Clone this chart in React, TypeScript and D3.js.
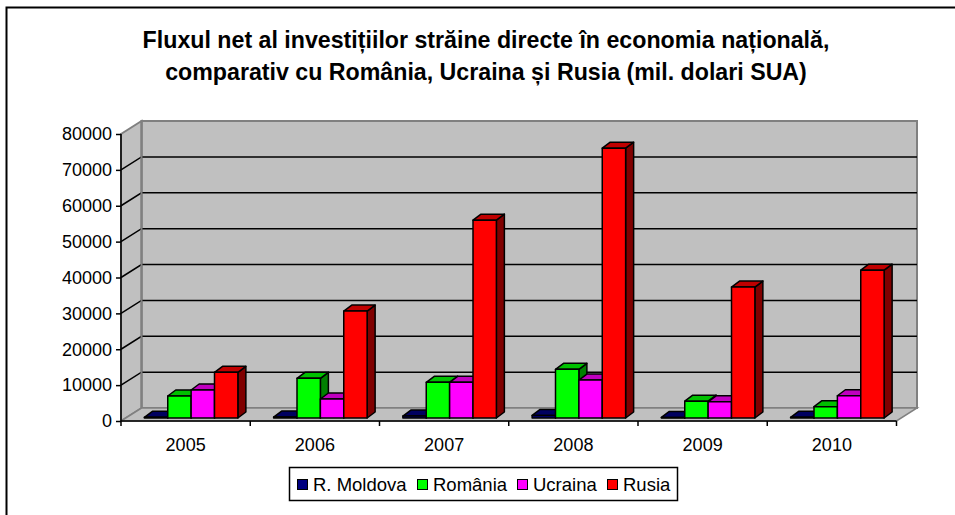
import React, { useEffect, useRef } from "react";
import * as d3 from "d3";

const years = ["2005", "2006", "2007", "2008", "2009", "2010"];
const seriesNames = ["R. Moldova", "România", "Ucraina", "Rusia"];
const moldova = [190, 260, 540, 710, 150, 200];
const romania = [6130, 11060, 9940, 13560, 4700, 3150];
const ucraina = [7800, 5300, 9940, 10580, 4500, 6200];
const rusia = [12730, 29800, 55150, 75200, 36500, 41200];
const yTicks = [0, 10000, 20000, 30000, 40000, 50000, 60000, 70000, 80000];
const colors = ["#000080", "#00ff00", "#ff00ff", "#ff0000"];
const tops = ["#000060", "#00c000", "#c000c0", "#c00000"];
const sides = ["#000040", "#008000", "#800080", "#800000"];
const titleLines = [
  "Fluxul net al investițiilor străine directe în economia națională,",
  "comparativ cu România, Ucraina și Rusia (mil. dolari SUA)",
];

export default function App() {
  const ref = useRef<SVGSVGElement | null>(null);

  useEffect(() => {
    const svg = d3.select(ref.current);
    svg.selectAll("*").remove();
    const font = "'Liberation Sans', Arial, sans-serif";

    // chart frame, right and bottom edges fall outside the picture
    svg.append("rect").attr("x", 6.5).attr("y", 7.5).attr("width", 1000).attr("height", 600)
      .attr("fill", "#fff").attr("stroke", "#000").attr("stroke-width", 2);

    svg.selectAll("text.title").data(titleLines).enter().append("text")
      .attr("class", "title")
      .attr("x", 486).attr("y", (d, i) => 48 + i * 32)
      .attr("text-anchor", "middle")
      .attr("font-family", font).attr("font-size", 23.2).attr("font-weight", "bold")
      .text(d => d);

    const x = d3.scaleBand().domain(years).range([121, 896.5]);
    const y = d3.scaleLinear().domain([0, 80000]).range([421, 134]);
    const group = d3.scaleBand().domain(seriesNames).range([0, 93.5]);

    // 3d offsets: wall depth, bar depth, shift of the bars from the front plane
    const wallX = 20.5, wallY = -13;
    const barX = 8, barY = -6;
    const shiftX = 5.5, shiftY = -3;

    const poly = (pts: number[][]) => pts.map(p => p.join(",")).join(" ");

    const walls = svg.append("g");
    const x0 = x.range()[0], x1 = x.range()[1];
    const y0 = y(0), yTop = y(80000);
    // back wall
    walls.append("polygon")
      .attr("points", poly([[x0 + wallX, yTop + wallY], [x1 + wallX, yTop + wallY], [x1 + wallX, y0 + wallY], [x0 + wallX, y0 + wallY]]))
      .attr("fill", "#c0c0c0").attr("stroke", "#808080").attr("stroke-width", 2);
    // side wall
    walls.append("polygon")
      .attr("points", poly([[x0, yTop], [x0 + wallX, yTop + wallY], [x0 + wallX, y0 + wallY], [x0, y0]]))
      .attr("fill", "#c0c0c0").attr("stroke", "#808080").attr("stroke-width", 2);
    // floor
    walls.append("polygon")
      .attr("points", poly([[x0, y0], [x0 + wallX, y0 + wallY], [x1 + wallX, y0 + wallY], [x1, y0]]))
      .attr("fill", "#c0c0c0").attr("stroke", "#808080").attr("stroke-width", 1.5);

    // gridlines run along the side wall and then the back wall
    yTicks.slice(1, -1).forEach(t => {
      walls.append("polyline")
        .attr("points", poly([[x0, y(t)], [x0 + wallX, y(t) + wallY], [x1 + wallX, y(t) + wallY]]))
        .attr("fill", "none").attr("stroke", "#000").attr("stroke-width", 1.5);
    });
    walls.append("line")
      .attr("x1", x0 + wallX).attr("x2", x0 + wallX).attr("y1", yTop + wallY).attr("y2", y0 + wallY)
      .attr("stroke", "#808080").attr("stroke-width", 2);

    // axes on the front plane
    const yAxis = d3.axisLeft(y).tickValues(yTicks).tickSize(5).tickPadding(4).tickFormat(d3.format("d") as any);
    const yG = svg.append("g").attr("transform", `translate(${x0},0)`).call(yAxis);
    yG.selectAll("text").attr("font-family", font).attr("font-size", 18).attr("fill", "#000");
    yG.selectAll("line,path").attr("stroke", "#000").attr("stroke-width", 1.5);
    yG.select("path").attr("d", `M0,${yTop}V${y0}`);

    const xAxis = d3.axisBottom(x).tickSize(0).tickPadding(17);
    const xG = svg.append("g").attr("transform", `translate(0,${y0})`).call(xAxis);
    xG.select("path").attr("d", `M${x0},0H${x1}`).attr("stroke", "#000").attr("stroke-width", 1.5);
    xG.selectAll("text").attr("font-family", font).attr("font-size", 18).attr("fill", "#000");
    years.concat("").forEach((_, i) => {
      const tx = x0 + i * x.bandwidth();
      xG.append("line").attr("x1", tx).attr("x2", tx).attr("y1", 0).attr("y2", 5)
        .attr("stroke", "#000").attr("stroke-width", 1.5);
    });

    // bars, back to front by category and left to right inside each group
    const allSeries = [moldova, romania, ucraina, rusia];
    const barsG = svg.append("g").attr("stroke", "#000").attr("stroke-width", 1.5).attr("stroke-linejoin", "round");
    const padInner = (x.bandwidth() - 93.5) / 2;
    years.forEach((yr, yi) => {
      seriesNames.forEach((name, si) => {
        const v = allSeries[si][yi];
        const left = (x(yr) as number) + padInner + shiftX + (group(name) as number);
        const right = left + group.bandwidth();
        const base = y(0) + shiftY;
        const top = y(v) + shiftY;
        barsG.append("polygon")
          .attr("points", poly([[right, top], [right + barX, top + barY], [right + barX, base + barY], [right, base]]))
          .attr("fill", sides[si]);
        barsG.append("polygon")
          .attr("points", poly([[left, top], [left + barX, top + barY], [right + barX, top + barY], [right, top]]))
          .attr("fill", tops[si]);
        barsG.append("rect")
          .attr("x", left).attr("y", top).attr("width", right - left).attr("height", base - top)
          .attr("fill", colors[si]);
      });
    });

    // legend
    const legend = svg.append("g");
    legend.append("rect").attr("x", 289.5).attr("y", 467.5).attr("width", 388).attr("height", 33)
      .attr("fill", "#fff").attr("stroke", "#000").attr("stroke-width", 1.5);
    const swatchX = [297, 417, 517, 607];
    seriesNames.forEach((name, i) => {
      legend.append("rect").attr("x", swatchX[i] + 0.5).attr("y", 479.5).attr("width", 10).attr("height", 10)
        .attr("fill", colors[i]).attr("stroke", "#000").attr("stroke-width", 1);
      legend.append("text").attr("x", swatchX[i] + 16).attr("y", 491)
        .attr("font-family", font).attr("font-size", 18.5).text(name);
    });
  }, []);

  return <svg ref={ref} width={955} height={515} style={{ position: "absolute", left: 0, top: 0 }} />;
}
